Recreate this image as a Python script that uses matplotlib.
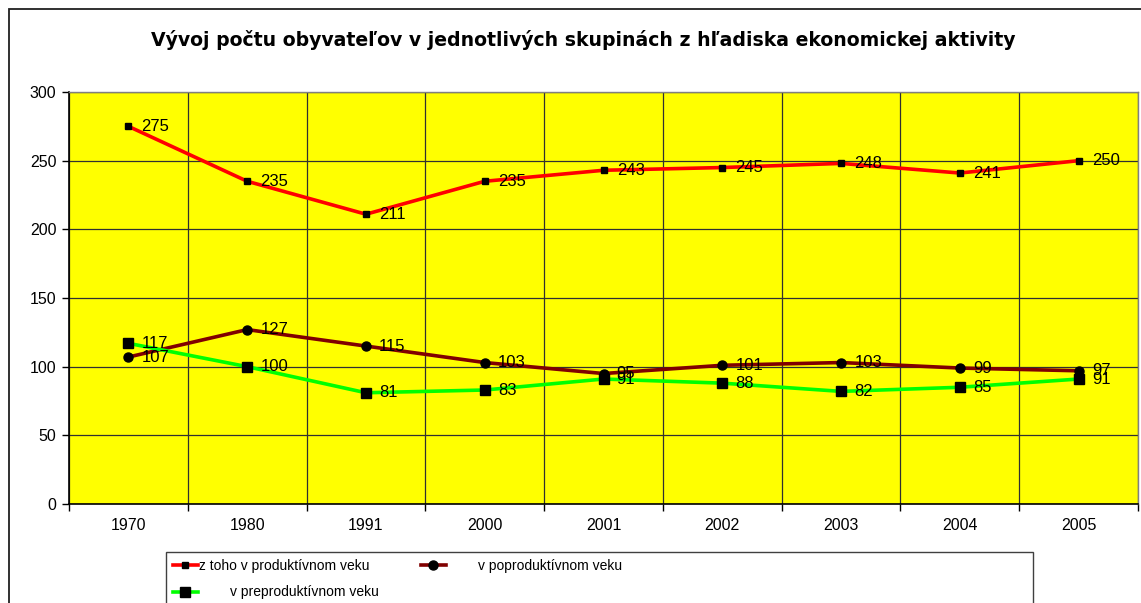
import matplotlib
matplotlib.use('Agg')
import matplotlib.pyplot as plt
from matplotlib.patches import Rectangle

# data
years = ['1970', '1980', '1991', '2000', '2001', '2002', '2003', '2004', '2005']
produktivny = [275, 235, 211, 235, 243, 245, 248, 241, 250]
poproduktivny = [107, 127, 115, 103, 95, 101, 103, 99, 97]
preproduktivny = [117, 100, 81, 83, 91, 88, 82, 85, 91]

title = "Vývoj počtu obyvateľov v jednotlivých skupinách z hľadiska ekonomickej aktivity"
lab_prod = "z toho v produktívnom veku"
lab_poprod = "v poproduktívnom veku"
lab_preprod = "v preproduktívnom veku"

plt.rcParams['font.family'] = ['Liberation Sans', 'DejaVu Sans']

W, H = 1141, 603
fig = plt.figure(figsize=(W / 100, H / 100), dpi=100)

# outer chart frame (cut off on right and bottom like the original)
fig.patches.append(Rectangle((9 / W, -0.2), 1.2, 1 - 9 / H + 0.2, transform=fig.transFigure,
                             fill=False, edgecolor='#202020', linewidth=1.3))

ax = fig.add_axes([69 / W, 1 - 504 / H, (1138 - 69) / W, (504 - 92) / H])
ax.set_facecolor('#FFFF00')

x = list(range(len(years)))

series = [
    (produktivny, '#FF0000', 's', 5, lab_prod),
    (poproduktivny, '#800000', 'o', 6.5, lab_poprod),
    (preproduktivny, '#00FF00', 's', 7, lab_preprod),
]
handles = {}
for vals, col, mk, ms, lab in series:
    ln, = ax.plot(x, vals, color=col, lw=2.6, marker=mk, ms=ms, mfc='black', mec='black', zorder=3)
    handles[lab] = ln
    for xi, v in zip(x, vals):
        ax.annotate(str(v), (xi, v), xytext=(9.5, 0), textcoords='offset points',
                    va='center', ha='left', fontsize=12, zorder=4)

ax.set_xlim(-0.5, len(years) - 0.5)
ax.set_ylim(0, 300)
ax.set_yticks(range(0, 301, 50))
ax.set_xticks([i - 0.5 for i in range(len(years) + 1)])
ax.set_xticklabels([])
ax.set_xticks(x, minor=True)
ax.set_xticklabels(years, minor=True)
ax.tick_params(axis='x', which='minor', length=0, pad=10, labelsize=11.5)
ax.tick_params(axis='x', which='major', length=5, width=1, color='black')
ax.tick_params(axis='y', length=5, width=1, labelsize=11.5, pad=4)
ax.grid(True, which='major', color='#303030', linewidth=0.9)
ax.set_axisbelow(True)
for s in ['left', 'bottom']:
    ax.spines[s].set_color('black')
    ax.spines[s].set_linewidth(1.2)
for s in ['top', 'right']:
    ax.spines[s].set_color('#808080')
    ax.spines[s].set_linewidth(1.0)

fig.text(583 / W, 1 - 40 / H, title, ha='center', va='center', fontsize=13.6,
         fontweight='bold', family='DejaVu Sans')

# legend, frame drawn separately
fig.patches.append(Rectangle((166 / W, -0.2), (1033 - 166) / W, 1 - 552 / H + 0.2,
                             transform=fig.transFigure, fill=False, edgecolor='#404040', linewidth=1.0))
leg_handles = [handles[lab_prod], handles[lab_preprod], handles[lab_poprod]]
leg_labels = [lab_prod, ' ' * 8 + lab_preprod, ' ' * 8 + lab_poprod]
fig.legend(leg_handles, leg_labels, loc='upper left', bbox_to_anchor=(166 / W, 1 - 552 / H),
           ncol=2, frameon=False, handlelength=1.8, handletextpad=0.1, columnspacing=3.0,
           labelspacing=0.9, borderpad=0.5, borderaxespad=0,
           prop={'family': ['Liberation Sans Narrow', 'Liberation Sans'], 'size': 10})

fig.savefig('out.png', dpi=100)
